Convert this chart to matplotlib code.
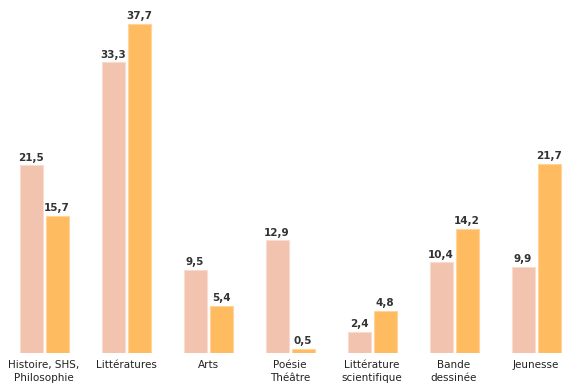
import matplotlib
matplotlib.use("Agg")
import matplotlib.pyplot as plt
import numpy as np

categories = ["Histoire, SHS,\nPhilosophie", "Littératures", "Arts", "Poésie\nThéâtre",
              "Littérature\nscientifique", "Bande\ndessinée", "Jeunesse"]
series_a = [21.5, 33.3, 9.5, 12.9, 2.4, 10.4, 9.9]
series_b = [15.7, 37.7, 5.4, 0.5, 4.8, 14.2, 21.7]

def fmt(v):
    return f"{v:.1f}".replace(".", ",")

fig = plt.figure(figsize=(5.67, 3.85), dpi=100)
ax = fig.add_axes([0, 32/385, 1, 353/385])
x = np.arange(len(categories))
w = 23/82
off = 13/82
ca = "#F2C3AE"
cb = "#FFBB60"
ax.bar(x - off, series_a, w, color=ca, edgecolor="#F8DCCF", linewidth=0.8)
ax.bar(x + off, series_b, w, color=cb, edgecolor="#FFD49A", linewidth=0.8)
for xi, a, b in zip(x, series_a, series_b):
    ax.text(xi - off, a + 0.3, fmt(a), ha="center", va="bottom", fontsize=7.5,
            fontweight="bold", color="#333333")
    ax.text(xi + off, b + 0.3, fmt(b), ha="center", va="bottom", fontsize=7.5,
            fontweight="bold", color="#333333")
for xi, c in zip(x, categories):
    ax.text(xi, -0.75, c, ha="center", va="top", fontsize=7.5, color="#222222",
            linespacing=1.45)
ax.set_xlim(-44/82, (567-44)/82)
ax.set_ylim(0, 353/(329/37.7))
ax.axis("off")
fig.savefig("out.png", dpi=100)
